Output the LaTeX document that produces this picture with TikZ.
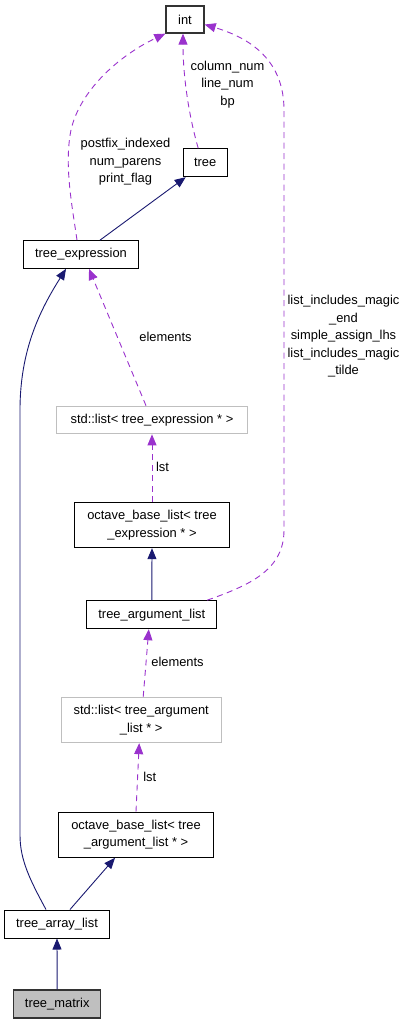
\documentclass[tikz,border=0pt]{standalone}
\usepackage{fontspec}
\setmainfont{Liberation Sans}
\usetikzlibrary{arrows.meta}
\definecolor{navy}{HTML}{191970}
\definecolor{orchid}{HTML}{9A32CD}
\definecolor{lgray}{HTML}{BFBFBF}
\begin{document}
\begin{tikzpicture}[x=1bp,y=-1bp,
  txt/.style={font=\fontsize{12.9bp}{17.5bp}\selectfont,align=center,inner sep=0pt},
  box/.style={txt,draw=black,line width=1bp,fill=white},
  graybox/.style={txt,draw=lgray,line width=1bp,fill=white},
  selbox/.style={txt,draw=black!80,line width=1.2bp,fill=lgray},
  inh/.style={draw=navy,line width=0.9bp,-{Triangle[length=11bp,width=9bp]},color=navy},
  use/.style={draw=orchid,line width=0.9bp,dash pattern=on 6bp off 4.5bp,-{Triangle[length=11bp,width=9bp]},color=orchid},
  lbl/.style={txt,text=black}]
\useasboundingbox (0,0) rectangle (408,1024);
% nodes
\node[box,minimum width=38bp,minimum height=27bp,line width=1.3bp,draw=black!80] (int) at (185,19.5) {int};
\node[box,minimum width=44bp,minimum height=28bp] (tree) at (205.2,162.7) {tree};
\node[box,minimum width=114.7bp,minimum height=27.7bp] (texp) at (81,254.5) {tree\_expression};
\node[graybox,minimum width=190bp,minimum height=27.7bp] (sl1) at (152,420) {std::list< tree\_expression * >};
\node[box,minimum width=154.7bp,minimum height=45bp] (ob1) at (152,525.2) {octave\_base\_list< tree\\\_expression * >};
\node[box,minimum width=129.7bp,minimum height=28bp] (targ) at (151.8,614.7) {tree\_argument\_list};
\node[graybox,minimum width=160.3bp,minimum height=45.3bp] (sl2) at (141.2,720) {std::list< tree\_argument\\\_list * >};
\node[box,minimum width=154.7bp,minimum height=45.3bp] (ob2) at (136,834.7) {octave\_base\_list< tree\\\_argument\_list * >};
\node[box,minimum width=104.7bp,minimum height=28bp] (tal) at (57,924) {tree\_array\_list};
\node[selbox,minimum width=87bp,minimum height=28bp] (tm) at (57.2,1004) {tree\_matrix};
% usage edges
\draw[use] ([xshift=-7bp]tree.north) .. controls (190,120) and (183,80) .. ([xshift=-2bp]int.south);
\draw[use] ([xshift=-4bp]texp.north) .. controls (72,205) and (64,165) .. (71,130) .. controls (80,90) and (120,55) .. (int.south west);
\draw[use] ([xshift=-10bp]targ.north east) .. controls (250,585) and (284,570) .. (284,530) -- (284,110) .. controls (284,60) and (250,38) .. ([yshift=-5bp]int.east);
\draw[use] ([xshift=-6bp]sl1.north) -- ([xshift=8bp]texp.south);
\draw[use] (ob1.north) -- (sl1.south);
\draw[use] ([xshift=2bp]sl2.north) -- ([xshift=-3bp]targ.south);
\draw[use] (ob2.north) -- ([xshift=-2bp]sl2.south);
% inheritance edges
\draw[inh] ([xshift=19bp]texp.north) -- ([xshift=3bp]tree.south west);
\draw[inh] (targ.north) -- (ob1.south);
\draw[inh] ([xshift=13bp]tal.north) -- ([xshift=-21bp]ob2.south);
\draw[inh] ([xshift=-11bp]tal.north) .. controls (30,880) and (20,860) .. (20,835) -- (20,410) .. controls (20,350) and (40,310) .. ([xshift=-15bp]texp.south);
\draw[inh] (tm.north) -- (tal.south);
% labels
\node[lbl] (l1) at (227.5,84.3) {column\_num\\line\_num\\bp};
\node[lbl] (l2) at (125.5,162) {postfix\_indexed\\num\_parens\\print\_flag};
\node[lbl] (l3) at (165.5,336.7) {elements};
\node[lbl] (l4) at (162.5,466.7) {lst};
\node[lbl] (l5) at (343.5,336.3) {list\_includes\_magic\\\_end\\simple\_assign\_lhs\\list\_includes\_magic\\\_tilde};
\node[lbl] (l6) at (177.5,661.7) {elements};
\node[lbl] (l7) at (149.7,776.7) {lst};
\end{tikzpicture}
\end{document}
